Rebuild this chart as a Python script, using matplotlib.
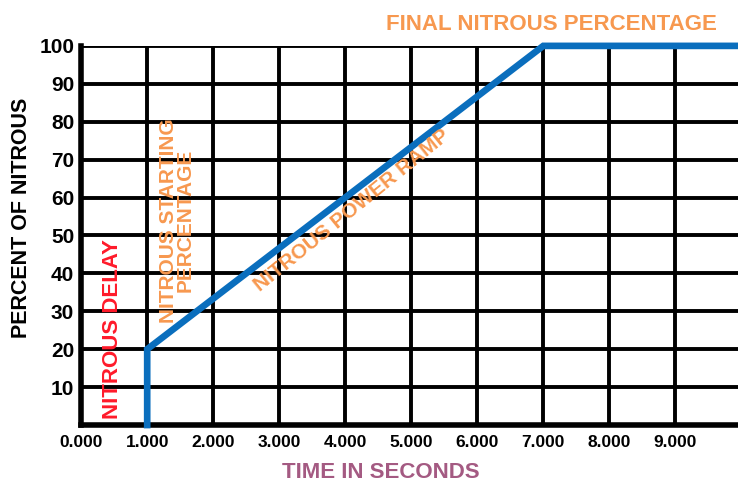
import matplotlib

matplotlib.use("Agg")
import matplotlib.pyplot as plt

# nitrous ramp profile
time_s = [1.0, 1.0, 7.0, 10.0]
percent = [0, 20, 100, 100]

x_ticks = [0, 1, 2, 3, 4, 5, 6, 7, 8, 9]
x_labels = ["0.000", "1.000", "2.000", "3.000", "4.000",
            "5.000", "6.000", "7.000", "8.000", "9.000"]
y_ticks = [10, 20, 30, 40, 50, 60, 70, 80, 90, 100]

FONT = ["Liberation Sans", "DejaVu Sans"]
ORANGE = "#f7984f"
plt.rcParams["font.family"] = FONT
plt.rcParams["font.weight"] = "bold"

fig = plt.figure(figsize=(7.38, 4.83), dpi=100)
ax = fig.add_axes([0.110, 0.120, 0.890, 0.785])
ax.set_xlim(0, 9.95)
ax.set_ylim(0, 100)

ax.set_xticks(x_ticks)
ax.set_xticklabels(x_labels)
ax.set_yticks(y_ticks)
ax.tick_params(axis="x", length=0, labelsize=12.5, pad=7, colors="black")
ax.tick_params(axis="y", length=0, labelsize=15, pad=5, colors="black")
for lab in ax.get_xticklabels() + ax.get_yticklabels():
    lab.set_fontweight("bold")
ax.grid(True, color="black", linewidth=2.8)
ax.set_axisbelow(True)

for side in ["top", "right"]:
    ax.spines[side].set_visible(False)
for side in ["left", "bottom"]:
    ax.spines[side].set_linewidth(4)

ax.plot(time_s, percent, color="#0a6ebd", linewidth=4.8, solid_joinstyle="miter",
        clip_on=False, zorder=5)

fig.text(381 / 738, 1 - 473 / 483, "TIME IN SECONDS", color="#a45a82", fontsize=16,
         fontweight="bold", ha="center", va="center")
fig.text(22 / 738, 1 - 218 / 483, "PERCENT OF NITROUS", color="black", fontsize=15.5,
         fontweight="bold", ha="center", va="center", rotation=90)

ax.text(0.48, 1.5, "NITROUS DELAY", color="#ff1a2a", fontsize=16, fontweight="bold",
        rotation=90, ha="center", va="bottom", zorder=6)
ax.text(1.45, 54, "NITROUS STARTING\nPERCENTAGE", color=ORANGE, fontsize=15,
        fontweight="bold", rotation=90, ha="center", va="center", linespacing=0.8, zorder=6)
ax.text(4.1, 56.5, "NITROUS POWER RAMP", color=ORANGE, fontsize=15, fontweight="bold",
        rotation=39, ha="center", va="center", rotation_mode="anchor", zorder=6)
ax.text(7.12, 104.3, "FINAL NITROUS PERCENTAGE", color=ORANGE, fontsize=16,
        fontweight="bold", ha="center", va="baseline", clip_on=False)

fig.savefig("out.png", dpi=100)
